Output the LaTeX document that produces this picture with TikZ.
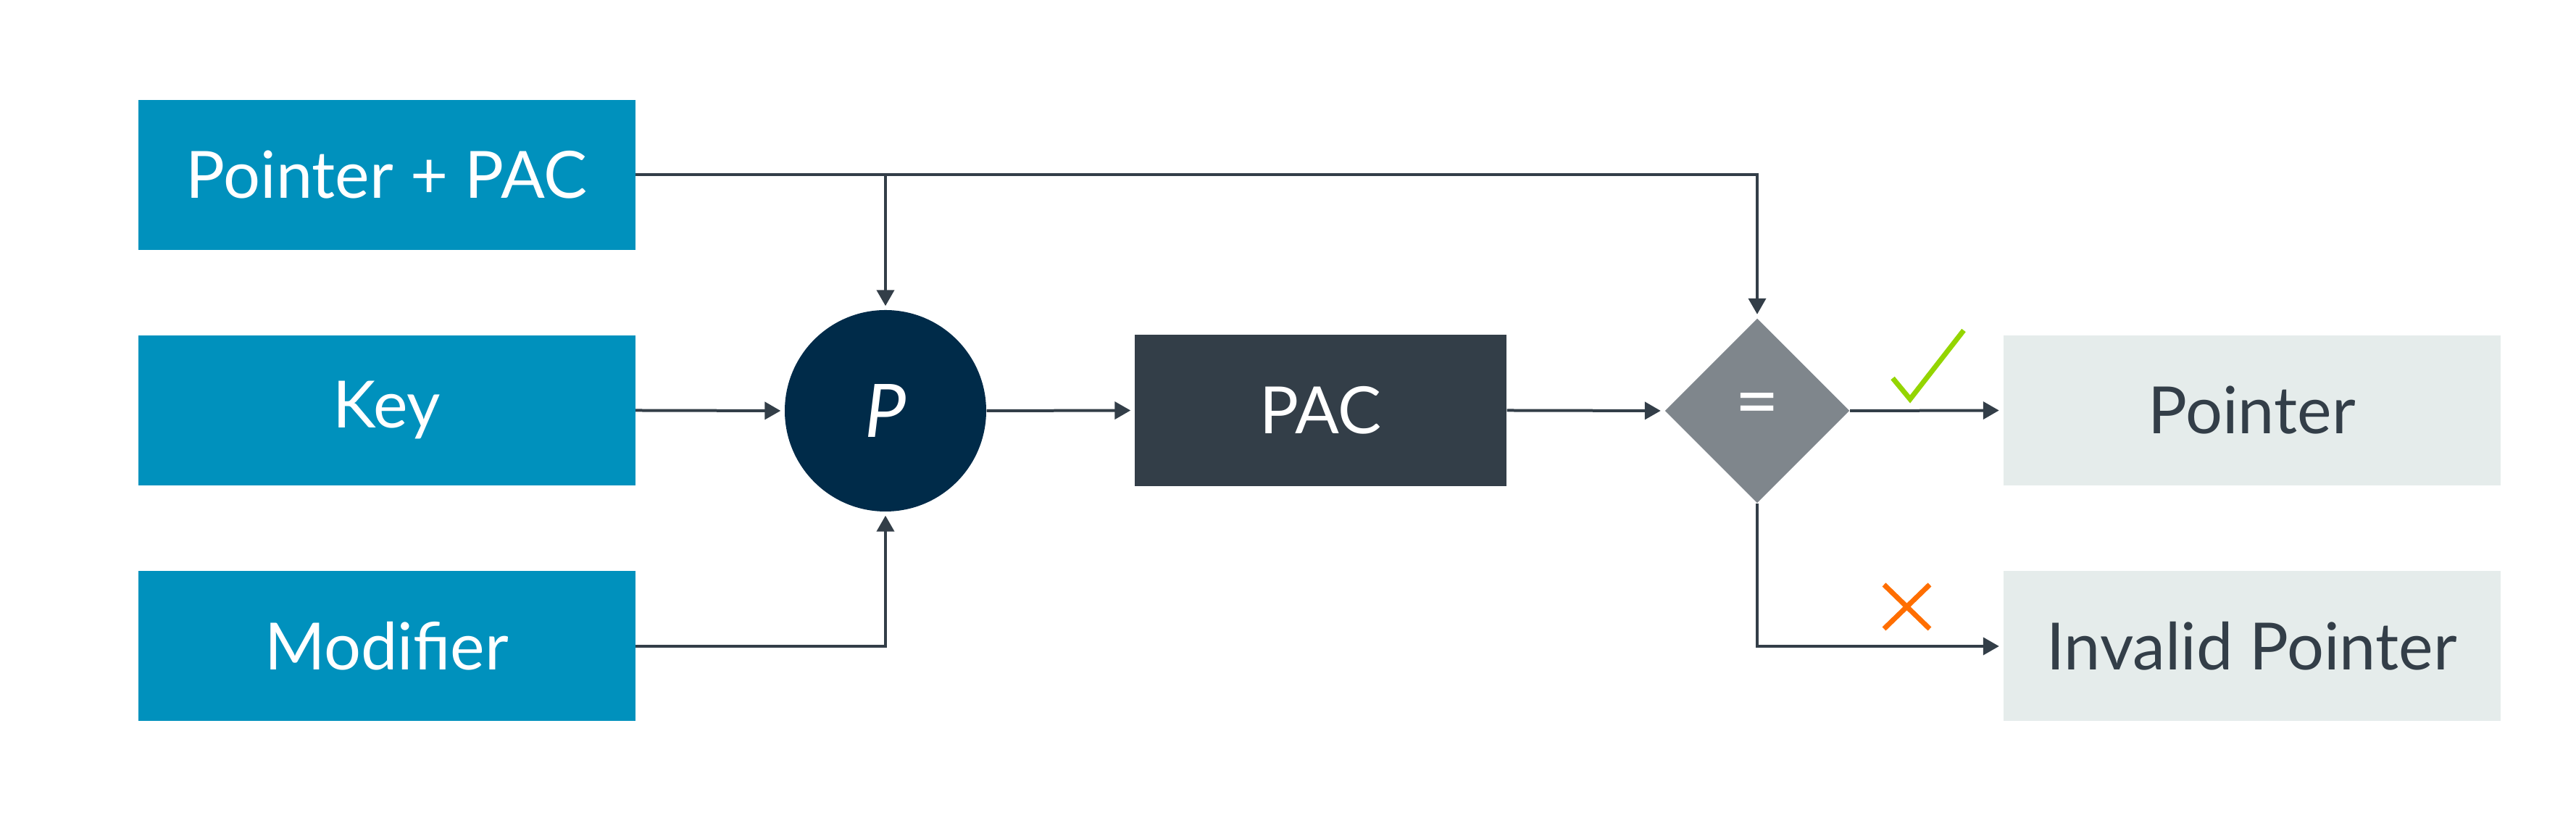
\documentclass[tikz,border=0pt]{standalone}
\usepackage{fontspec}
\setmainfont{Lato}
\usetikzlibrary{shapes.geometric,arrows.meta}
\definecolor{inblue}{RGB}{0,145,189}
\definecolor{navy}{RGB}{0,43,73}
\definecolor{slate}{RGB}{51,62,72}
\definecolor{midgray}{RGB}{127,134,140}
\definecolor{pale}{RGB}{229,236,235}
\definecolor{okgreen}{RGB}{148,213,0}
\definecolor{badorange}{RGB}{255,110,0}
\begin{document}
\begin{tikzpicture}[
	box/.style={rectangle, inner sep=0pt, minimum width=6.86cm, minimum height=2.07cm, font=\fontsize{25.6}{30}\selectfont},
	inbox/.style={box, fill=inblue, text=white},
	outbox/.style={box, fill=pale, text=slate},
	flow/.style={-{Triangle[length=0.22cm,width=0.24cm]}, draw=slate, line width=0.04cm, shorten >=0.05cm}
]
	\useasboundingbox (0,0) rectangle (35.55,11.47);

	\node 	(ptr)		at	(5.335,9.055) 	[inbox]{Pointer + PAC};
	\node 	(key)		at	(5.335,5.805) 	[inbox]{Key};
	\node 	(mod)		at	(5.335,2.55) 	[inbox]{Modifier};

	\node 	(circ)		at	(12.22,5.80) 	[circle, fill=navy, text=white, inner sep=0pt, minimum size=2.78cm, font=\fontsize{29}{32}\selectfont]{\textit{P}};

	\node 	(pac)		at	(18.225,5.805) 	[box, minimum width=5.13cm, minimum height=2.09cm, fill=slate, text=white]{PAC};

	\node 	(dia)		at	(24.25,5.80) 	[diamond, aspect=1, fill=midgray, text=white, inner sep=0pt, minimum width=2.55cm, minimum height=2.55cm, font=\fontsize{30}{32}\selectfont]{=};

	\node 	(pnt)		at	(31.075,5.805) 	[outbox]{Pointer};
	\node 	(inv)		at	(31.075,2.55) 	[outbox]{Invalid Pointer};

	\draw[flow] (ptr.east) -| (dia.north);
	\draw[flow] (circ.north |- ptr.east) -- (circ.north);
	\draw[flow] (key.east) -- (circ.west);
	\draw[flow] (mod.east) -| (circ.south);
	\draw[flow] (circ.east) -- (pac.west);
	\draw[flow] (pac.east) -- (dia.west);
	\draw[flow] (dia.east) -- (pnt.west);
	\draw[flow] (dia.south) |- (inv.west);

	% check and cross marks
	\draw[okgreen, line width=0.07cm] (26.12,6.25) -- (26.36,5.96) -- (27.10,6.91);
	\draw[badorange, line width=0.07cm] (26.00,3.40) -- (26.63,2.79) (26.00,2.79) -- (26.63,3.40);

\end{tikzpicture}
\end{document}
